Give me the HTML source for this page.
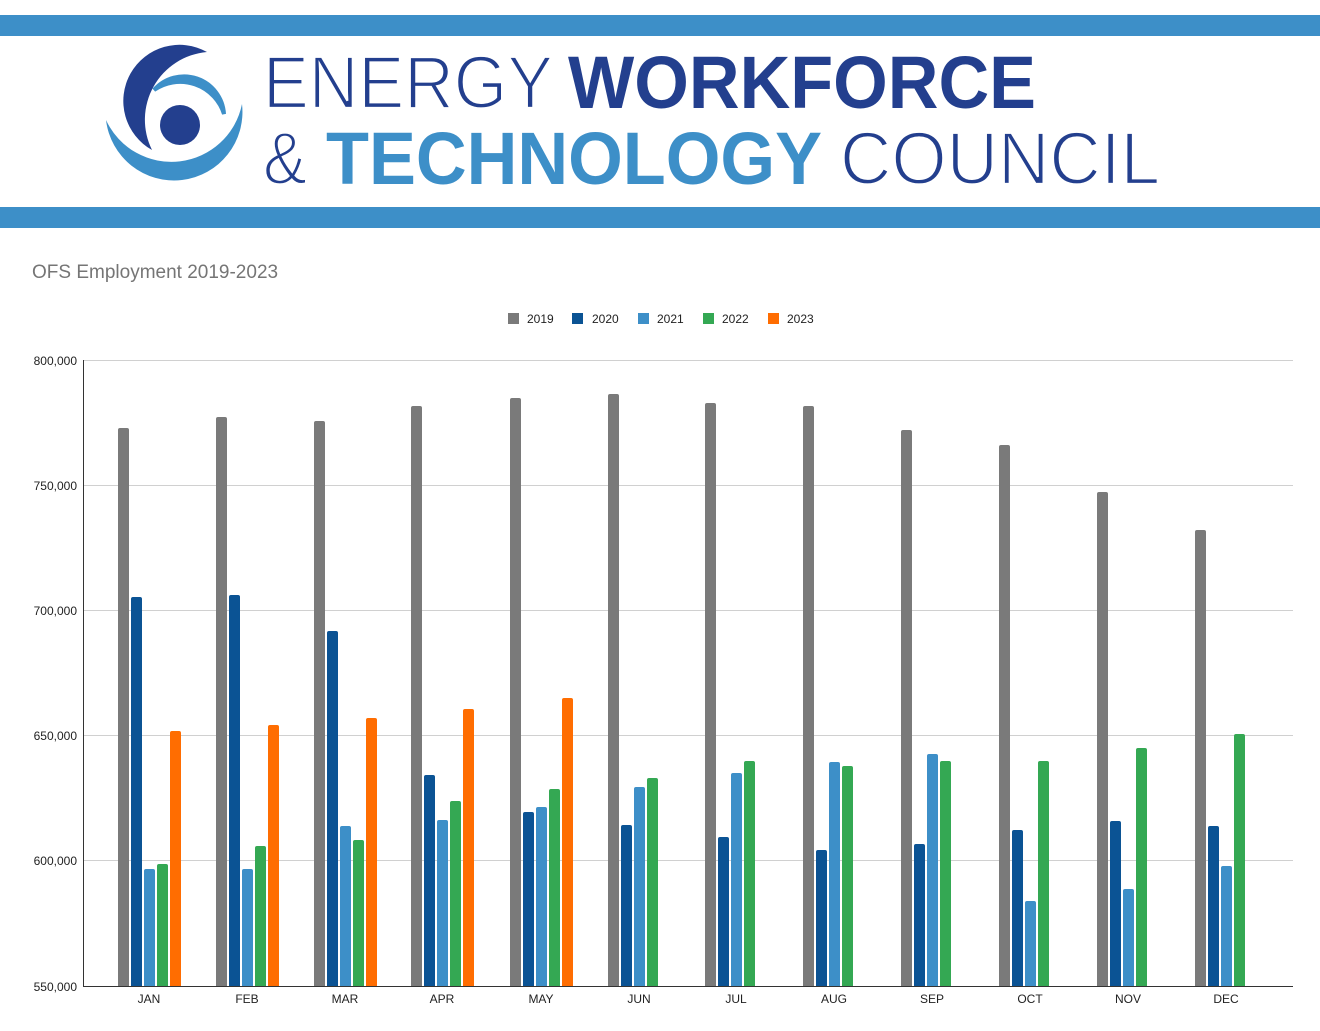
<!DOCTYPE html>
<html><head><meta charset="utf-8"><style>
html,body{margin:0;padding:0;background:#fff;}
svg{display:block;font-family:"Liberation Sans",Arial,sans-serif;}
</style></head><body>
<svg width="1320" height="1031" viewBox="0 0 1320 1031" xmlns="http://www.w3.org/2000/svg">
<rect x="0" y="0" width="1320" height="1031" fill="#fff"/>
<rect x="0" y="15" width="1320" height="21" fill="#3d8fc8"/>
<rect x="0" y="207" width="1320" height="21" fill="#3d8fc8"/>
<!-- logo -->
<circle cx="180" cy="125" r="20" fill="#233f8e"/>
<path d="M207 52 A68 68 0 0 0 152 150 A50 50 0 0 1 207 52 Z" fill="#233f8e"/>
<path d="M106 120 A68 68 0 0 0 242 104 A72 72 0 0 1 106 120 Z" fill="#3d8fc8"/>
<path d="M154 90 A46 46 0 0 1 224 114 A40 40 0 0 0 154 90 Z" fill="#3d8fc8" stroke="#3d8fc8" stroke-width="4"/>
<g stroke="#fff" stroke-width="2.2">
<text x="263" y="108" font-size="74" fill="#233f8e" textLength="290" lengthAdjust="spacingAndGlyphs">ENERGY</text>
<text x="263" y="184" font-size="74" fill="#233f8e" textLength="44" lengthAdjust="spacingAndGlyphs">&amp;</text>
<text x="840" y="184" font-size="74" fill="#233f8e" textLength="320" lengthAdjust="spacingAndGlyphs">COUNCIL</text>
</g>
<text x="568" y="108" font-size="74" fill="#233f8e" font-weight="bold" textLength="468" lengthAdjust="spacingAndGlyphs">WORKFORCE</text>
<text x="326" y="184" font-size="74" fill="#3d8fc8" font-weight="bold" textLength="496" lengthAdjust="spacingAndGlyphs">TECHNOLOGY</text>
<!-- chart title -->
<text x="32" y="278" font-size="19" fill="#757575">OFS Employment 2019-2023</text>
<!-- legend -->
<g font-size="12" fill="#222">
<rect x="508" y="313" width="11" height="11" fill="#7a7a7a"/><text x="527" y="323">2019</text>
<rect x="572" y="313" width="11" height="11" fill="#0b5394"/><text x="592" y="323">2020</text>
<rect x="638" y="313" width="11" height="11" fill="#3d8fc8"/><text x="657" y="323">2021</text>
<rect x="703" y="313" width="11" height="11" fill="#34a853"/><text x="722" y="323">2022</text>
<rect x="768" y="313" width="11" height="11" fill="#ff6d01"/><text x="787" y="323">2023</text>
</g>
<!-- grid -->
<g stroke="#d0d0d0" stroke-width="1">
<line x1="83" y1="360.5" x2="1293" y2="360.5"/>
<line x1="83" y1="485.5" x2="1293" y2="485.5"/>
<line x1="83" y1="610.5" x2="1293" y2="610.5"/>
<line x1="83" y1="735.5" x2="1293" y2="735.5"/>
<line x1="83" y1="860.5" x2="1293" y2="860.5"/>
</g>
<line x1="83" y1="986.5" x2="1293" y2="986.5" stroke="#333" stroke-width="1"/>
<line x1="83.5" y1="360" x2="83.5" y2="987" stroke="#333" stroke-width="1"/>
<g font-size="12" fill="#222" text-anchor="end">
<text x="77" y="365">800,000</text>
<text x="77" y="490">750,000</text>
<text x="77" y="615">700,000</text>
<text x="77" y="740">650,000</text>
<text x="77" y="865">600,000</text>
<text x="77" y="991">550,000</text>
</g>
<g id="bars"></g>
<g font-size="12" fill="#222" text-anchor="middle" id="labels"></g>
<script>
(function(){
var tops=[[428,597,869,864,731],[417,595,869,846,725],[421,631,826,840,718],[406,775,820,801,709],[398,812,807,789,698],[394,825,787,778,0],[403,837,773,761,0],[406,850,762,766,0],[430,844,754,761,0],[445,830,901,761,0],[492,821,889,748,0],[530,826,866,734,0]];
var lefts=[118,216,314,411,510,608,705,803,901,999,1097,1195];
var cols=["#7a7a7a","#0b5394","#3d8fc8","#34a853","#ff6d01"];
var names=["JAN","FEB","MAR","APR","MAY","JUN","JUL","AUG","SEP","OCT","NOV","DEC"];
var ns="http://www.w3.org/2000/svg";var b=document.getElementById("bars"),l=document.getElementById("labels");
for(var i=0;i<12;i++){for(var j=0;j<5;j++){var t=tops[i][j];if(!t)continue;var r=document.createElementNS(ns,"path");var x=lefts[i]+j*13,w=11;
r.setAttribute("d","M"+x+" 986 V"+(t+2)+" Q"+x+" "+t+" "+(x+2)+" "+t+" H"+(x+w-2)+" Q"+(x+w)+" "+t+" "+(x+w)+" "+(t+2)+" V986 Z");r.setAttribute("fill",cols[j]);b.appendChild(r);}
var tx=document.createElementNS(ns,"text");tx.setAttribute("x",lefts[i]+31);tx.setAttribute("y",1003);tx.textContent=names[i];l.appendChild(tx);}
})();
</script>
</svg>
</body></html>
